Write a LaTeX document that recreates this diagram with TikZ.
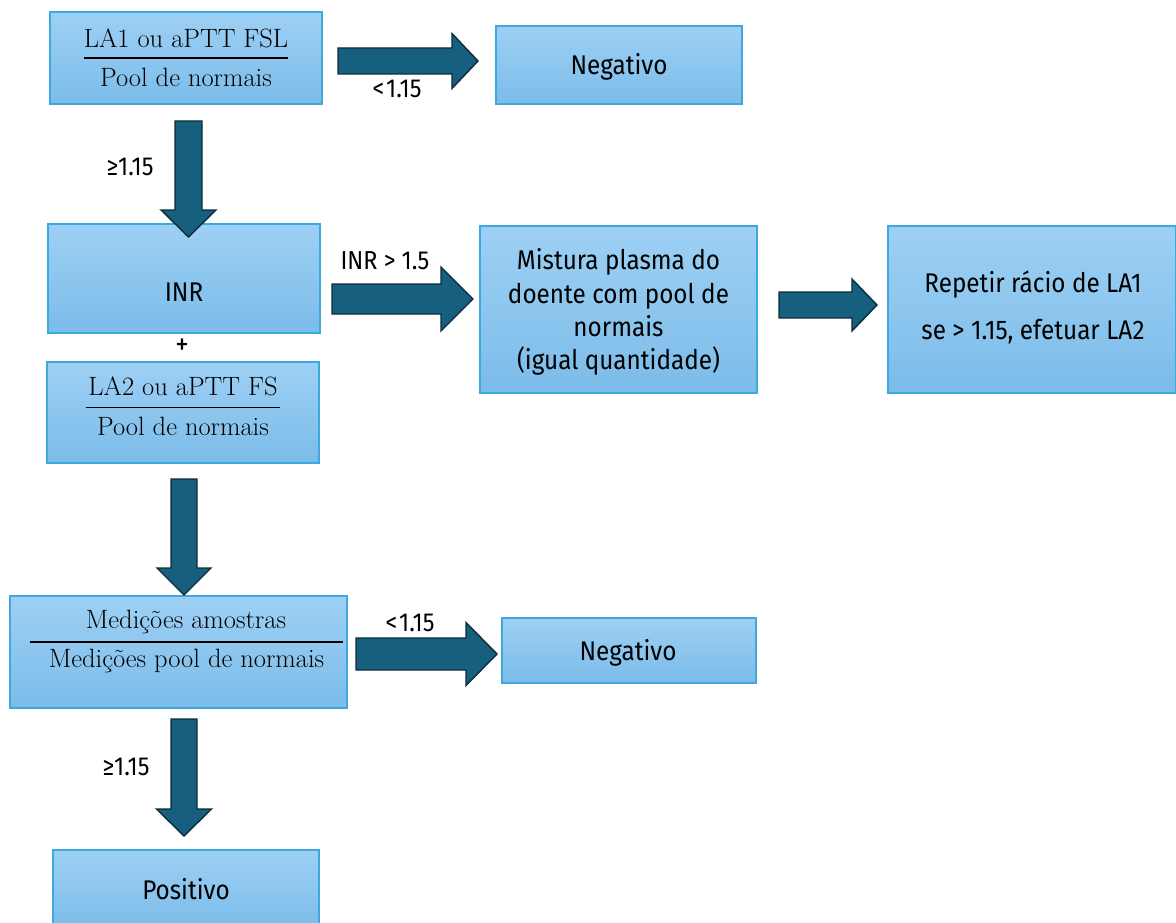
\documentclass[tikz,border=0pt]{standalone}
\usepackage{fontspec}
\newfontfamily\lab[FakeStretch=0.9]{Fira Sans}
\usetikzlibrary{positioning}
\definecolor{boxtop}{HTML}{9ED0F4}
\definecolor{boxbot}{HTML}{7BBCE9}
\definecolor{boxline}{HTML}{3DA9DE}
\definecolor{arrfill}{HTML}{175F7F}
\definecolor{arrline}{HTML}{0E2C3C}
\tikzset{
  box/.style={draw=boxline, line width=1.3pt, top color=boxtop, bottom color=boxbot, inner sep=0pt},
  txt/.style={font=\lab\fontsize{27}{33.3}\selectfont, align=center, inner sep=0pt},
  lbl/.style={font=\lab\fontsize{26}{30}\selectfont, inner sep=0pt},
  fractxt/.style={font=\fontsize{26.5}{30}\selectfont, inner sep=0pt},
  fracline/.style={line width=1.4pt, black},
  blockarrow/.style={fill=arrfill, draw=arrline, line width=1.4pt, line join=miter}
}
% right block arrow: x start, head base x, tip x, y centre, shaft half, head half
\newcommand\myRarrow[6]{%
  \draw[blockarrow] (#1,#4-#5) -- (#2,#4-#5) -- (#2,#4-#6) -- (#3,#4) -- (#2,#4+#6) -- (#2,#4+#5) -- (#1,#4+#5) -- cycle;}
% down block arrow: x centre, y start, head base y, tip y, shaft half, head half
\newcommand\myDarrow[6]{%
  \draw[blockarrow] (#1-#5,#2) -- (#1-#5,#3) -- (#1-#6,#3) -- (#1,#4) -- (#1+#6,#3) -- (#1+#5,#3) -- (#1+#5,#2) -- cycle;}
\begin{document}
\begin{tikzpicture}[x=1pt,y=-1pt]
\useasboundingbox (0,0) rectangle (1176,923);
% boxes
\node[box, minimum width=272pt, minimum height=92pt] (b1) at (186,58) {};
\node[box, minimum width=246pt, minimum height=78pt] (neg1) at (619,65) {};
\node[box, minimum width=272pt, minimum height=109pt] (inr) at (184,278.5) {};
\node[box, minimum width=272pt, minimum height=101pt] (la2) at (183,412.5) {};
\node[box, minimum width=277pt, minimum height=167pt] (mist) at (618.5,309.5) {};
\node[box, minimum width=288pt, minimum height=167pt] (rep) at (1032,309.5) {};
\node[box, minimum width=337pt, minimum height=112pt] (med) at (178.5,652) {};
\node[box, minimum width=254pt, minimum height=65pt] (neg2) at (629,650.5) {};
\node[box, minimum width=266pt, minimum height=78pt] (pos) at (186,889) {};
% fraction 1
\node[fractxt] (b1n) at (186,38) {LA1 ou aPTT FSL};
\node[fractxt] (b1d) at (186,77) {Pool de normais};
\coordinate (b1l) at (84,58); \coordinate (b1r) at (288,58);
\draw[fracline] (b1l) -- (b1r);
% fraction 2
\node[fractxt] (la2n) at (183,386) {LA2 ou aPTT FS};
\node[fractxt] (la2d) at (183,426) {Pool de normais};
\coordinate (la2l) at (86,407.5); \coordinate (la2r) at (280,407.5);
\draw[fracline] (la2l) -- (la2r);
% fraction 3
\node[fractxt] (medn) at (186,622) {Medições amostras};
\node[fractxt] (medd) at (186.5,661) {Medições pool de normais};
\coordinate (medl) at (30,642); \coordinate (medr) at (343,642);
\draw[fracline] (medl) -- (medr);
% box texts
\node[txt] (neg1t) at (619,67) {Negativo};
\node[txt] (inrt) at (184,292) {INR};
\node[txt, font=\lab\fontsize{30}{30}\selectfont] (plus) at (182,347) {+};
\node[txt] (mistt) at (618.5,312) {Mistura plasma do\\doente com pool de\\normais\\(igual quantidade)};
\node[txt, font=\lab\fontsize{27}{47}\selectfont] (rept) at (1033,307) {Repetir rácio de LA1\\se > 1.15, efetuar LA2};
\node[txt] (neg2t) at (628,653) {Negativo};
\node[txt] (post) at (186,889) {Positivo};
% labels
\node[lbl] (l1) at (397,89) {<\kern2pt1.15};
\node[lbl] (l2) at (130,167) {≥1.15};
\node[lbl] (l3) at (385,261) {INR > 1.5};
\node[lbl] (l4) at (410,623) {<\kern2pt1.15};
\node[lbl] (l5) at (126,767) {≥1.15};
% block arrows
\myRarrow{338}{452}{478}{61}{13}{27.5}
\myDarrow{188.5}{121}{210}{237}{13.5}{27.5}
\myRarrow{332}{441}{473}{299}{15}{32}
\myRarrow{779}{852}{877}{305}{13}{26}
\myDarrow{184}{479}{568}{595}{13}{27}
\myRarrow{356}{466}{497}{654}{16}{31.5}
\myDarrow{184}{719}{809}{836}{13}{27.5}
\end{tikzpicture}
\end{document}
